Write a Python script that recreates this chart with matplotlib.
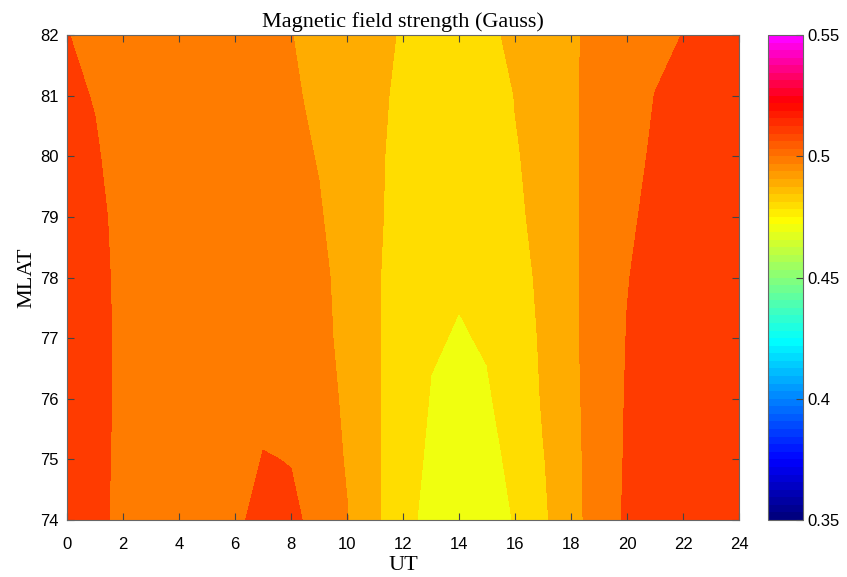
import numpy as np
import matplotlib.pyplot as plt
from matplotlib.colors import LinearSegmentedColormap, Normalize
from matplotlib.cm import ScalarMappable

# grid: hourly UT, 1 deg MLAT
ut = list(range(0, 25))
mlat = [74, 75, 76, 77, 78, 79, 80, 81, 82]

# magnetic field strength (Gauss), one row per MLAT
b_74 = [0.515, 0.5115, 0.5085, 0.508, 0.508, 0.508, 0.5085, 0.5125, 0.5112, 0.5082, 0.5004, 0.4917, 0.4823,
        0.4777, 0.4755, 0.4775, 0.4803, 0.4885, 0.496, 0.5053, 0.5112, 0.513, 0.514, 0.515, 0.515]
b_75 = [0.5145, 0.5115, 0.5088, 0.508, 0.5078, 0.5075, 0.5066, 0.5103, 0.5098, 0.5045, 0.4993, 0.4915, 0.484,
        0.4784, 0.4765, 0.4785, 0.4812, 0.4895, 0.4965, 0.50525, 0.5108, 0.5125, 0.5135, 0.5145, 0.515]
b_76 = [0.514, 0.5113, 0.5091, 0.5082, 0.508, 0.5078, 0.5075, 0.5083, 0.5075, 0.503, 0.4987, 0.4915, 0.484,
        0.47965, 0.4775, 0.4795, 0.4821, 0.4909, 0.4975, 0.50464, 0.5106, 0.512, 0.513, 0.514, 0.5145]
b_77 = [0.5135, 0.5112, 0.5092, 0.5082, 0.508, 0.5078, 0.5075, 0.507, 0.506, 0.5022, 0.4978, 0.4915, 0.484,
        0.48053, 0.47963, 0.4804, 0.4855, 0.49113, 0.4975, 0.50583, 0.51017, 0.5115, 0.5125, 0.5135, 0.514]
b_78 = [0.513, 0.511, 0.50918, 0.5082, 0.508, 0.5078, 0.5075, 0.507, 0.506, 0.5018, 0.4973, 0.4915, 0.484,
        0.4818, 0.4805, 0.4815, 0.486, 0.49215, 0.4985, 0.5035, 0.5098, 0.5118, 0.513, 0.5135, 0.514]
b_79 = [0.5125, 0.5108, 0.50902, 0.5082, 0.508, 0.5078, 0.5075, 0.507, 0.5055, 0.5008, 0.49547, 0.492, 0.48533,
        0.483, 0.4823, 0.4835, 0.4875, 0.49375, 0.4985, 0.5035, 0.5085, 0.51225, 0.513, 0.5135, 0.5135]
b_80 = [0.5118, 0.5104, 0.5084, 0.5078, 0.5075, 0.5072, 0.507, 0.5062, 0.5025, 0.49947, 0.4955, 0.4925, 0.48536,
        0.4835, 0.483, 0.4845, 0.4895, 0.492, 0.4985, 0.5035, 0.5075, 0.51107, 0.512, 0.5125, 0.513]
b_81 = [0.5108, 0.5098, 0.5085, 0.5078, 0.5075, 0.5072, 0.5068, 0.5058, 0.5016, 0.4976, 0.4945, 0.4925, 0.4875,
        0.485, 0.4845, 0.4855, 0.4902, 0.4935, 0.4985, 0.5035, 0.507, 0.5101, 0.5115, 0.512, 0.5125]
b_82 = [0.5101, 0.5091, 0.508, 0.5075, 0.5072, 0.507, 0.5065, 0.5055, 0.5005, 0.4934, 0.4925, 0.4915, 0.4895,
        0.4875, 0.487, 0.4885, 0.4915, 0.494, 0.4985, 0.503, 0.506, 0.5085, 0.5101, 0.5108, 0.511]

levels = [0.47, 0.48, 0.49, 0.50, 0.51, 0.52]
cbar_ticks = [0.35, 0.4, 0.45, 0.5, 0.55]
cbar_labels = ['0.35', '0.4', '0.45', '0.5', '0.55']

B = np.array([b_74, b_75, b_76, b_77, b_78, b_79, b_80, b_81, b_82])
X, Y = np.meshgrid(ut, mlat)

# jet-like map that ends in magenta, 64 steps like matlab
vmin, vmax = 0.35, 0.55
anchors = [(0.35, (0, 0, 0.5)), (0.3735, (0, 0, 1)), (0.4235, (0, 1, 1)), (0.4485, (0.5, 1, 0.5)),
           (0.4735, (1, 1, 0)), (0.5235, (1, 0, 0)), (0.55, (1, 0, 1))]
cmap = LinearSegmentedColormap.from_list('jetmag', [((v - vmin) / (vmax - vmin), c) for v, c in anchors], N=64)
norm = Normalize(vmin, vmax)

# matlab colours each band by its lower level
fill_colors = [cmap(norm(l)) for l in levels[:-1]]

plt.rcParams['font.family'] = 'Liberation Sans'
fig = plt.figure(figsize=(8.47, 5.77), dpi=100)
ax = fig.add_axes([67 / 847, 57 / 577, 672 / 847, 485 / 577])
ax.contourf(X, Y, B, levels=levels, colors=fill_colors, antialiased=False)

ax.set_xlim(0, 24)
ax.set_ylim(74, 82)
ax.set_xticks(range(0, 25, 2))
ax.set_yticks(range(74, 83))
ax.tick_params(direction='in', length=5, labelsize=12, top=True, right=True, color='#444444')
ax.tick_params(axis='x', pad=12)
ax.tick_params(axis='y', pad=6)
for s in ax.spines.values():
    s.set_color('#666666')

serif = 'Liberation Serif'
ax.set_title('Magnetic field strength (Gauss)', fontsize=16, family=serif, pad=6)
ax.set_xlabel('UT', fontsize=16, family=serif, labelpad=3)
ax.set_ylabel('MLAT', fontsize=16, family=serif, labelpad=3)

# colorbar
cax = fig.add_axes([768 / 847, 57 / 577, 35 / 847, 485 / 577])
sm = ScalarMappable(norm=norm, cmap=cmap)
cb = fig.colorbar(sm, cax=cax, ticks=cbar_ticks)
cb.ax.set_yticklabels(cbar_labels)
cb.ax.tick_params(direction='in', length=5, labelsize=12, color='#444444')
cb.outline.set_edgecolor('#666666')

plt.savefig('out.png', dpi=100)
